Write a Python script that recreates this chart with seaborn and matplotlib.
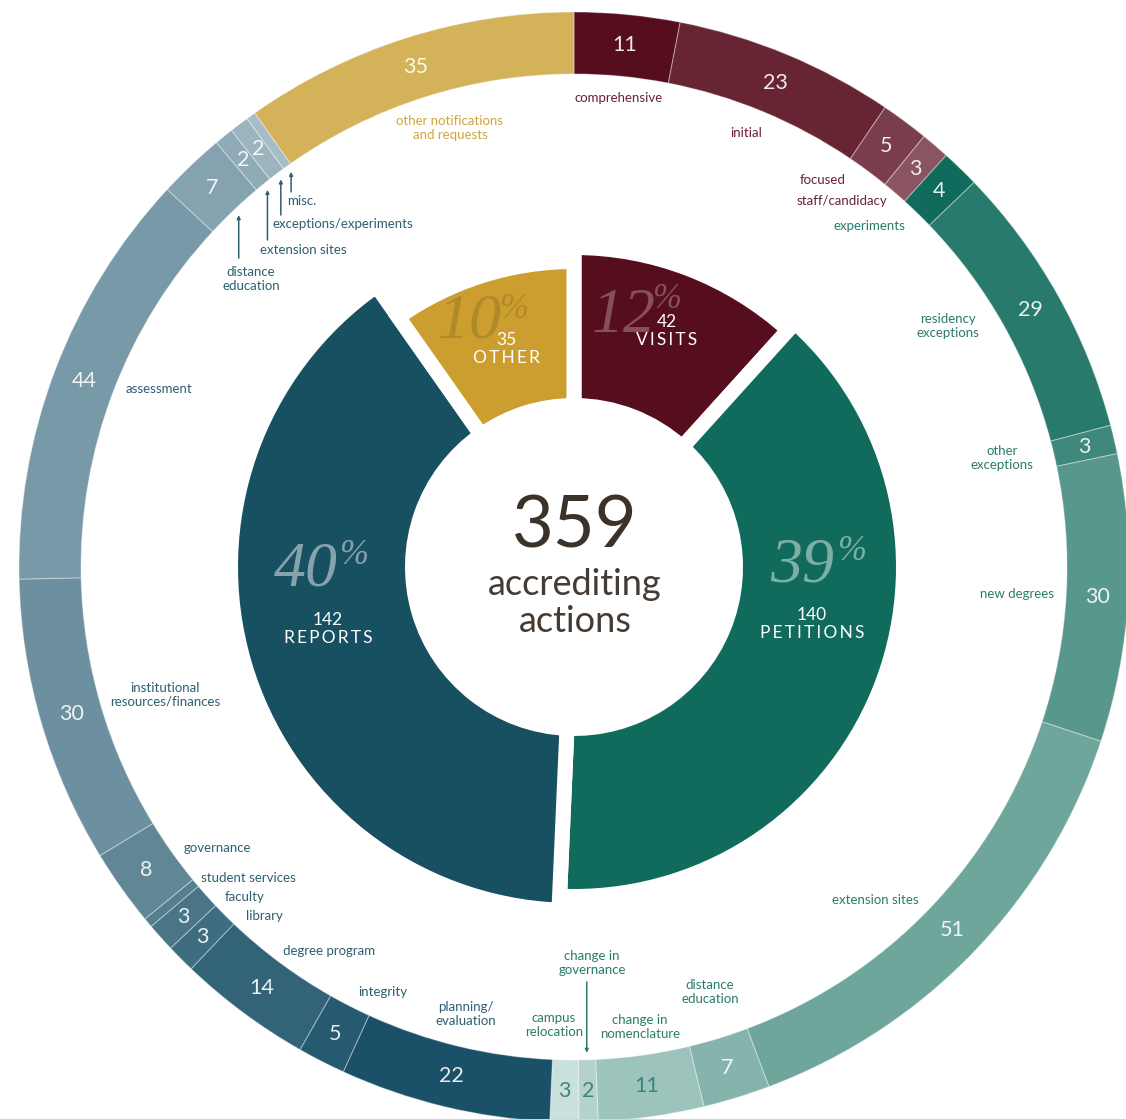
import numpy as np
import pandas as pd
import seaborn as sns
import matplotlib.pyplot as plt

# --- data ---
groups = ['VISITS', 'PETITIONS', 'REPORTS', 'OTHER']
group_totals = [42, 140, 142, 35]
group_pcts = ['12', '39', '40', '10']

visit_types = ['comprehensive', 'initial', 'focused', 'staff/candidacy']
visit_counts = [11, 23, 5, 3]

petition_types = ['experiments', 'residency\nexceptions', 'other\nexceptions', 'new degrees',
                  'extension sites', 'distance\neducation', 'change in\nnomenclature',
                  'change in\ngovernance', 'campus\nrelocation']
petition_counts = [4, 29, 3, 30, 51, 7, 11, 2, 3]

report_types = ['planning/\nevaluation', 'integrity', 'degree program', 'library', 'faculty',
                'student services', 'governance', 'institutional\nresources/finances',
                'assessment', 'distance\neducation', 'extension sites',
                'exceptions/experiments', 'misc.']
report_counts = [22, 5, 14, 3, 3, 1, 8, 30, 44, 7, 2, 2, 1]

other_types = ['other notifications\nand requests']
other_counts = [35]

# --- colours ---
inner_colors = ['#560d1e', '#116b5c', '#175061', '#cb9e2f']
label_colors = ['#6b2131', '#2b7b6c', '#2d5f71', '#d0a53a']
pct_colors = ['#85505b', '#7db0a5', '#86a3ad', '#b08928']
outer_pals = [sns.blend_palette(['#560d1e', '#8a5561'], len(visit_counts)),
              sns.blend_palette(['#116b5c', '#cae0dc'], len(petition_counts)),
              sns.blend_palette(['#1b5168', '#a6bdc6'], len(report_counts)),
              ['#d4b259']]

# --- layout (pixels of the 1126x1119 canvas) ---
W, H = 1126, 1119
CX, CY = 574, 567
R_OUT, RING_W = 555, 62
inner_r = [312, 322, 336, 298]
HOLE = 169
GAP = 15
LIGHT = ['Lato Light', 'Lato', 'DejaVu Sans']

label_xy = [
    [(619, 98), (746, 133), (823, 180), (842, 201)],
    [(869, 226), (948, 326), (1002, 458), (1017, 594), (875, 900), (710, 992),
     (640, 1027), (592, 963), (554, 1025)],
    [(466, 1014), (383, 992), (329, 951), (264, 916), (245, 897), (248, 878), (217, 848),
     (165, 695), (159, 389), (251, 279), (303, 250), (343, 224), (302, 201)],
    [(450, 128)],
]
# leader lines: (group, index) -> pixel y where the line stops near the label
leaders = {(1, 7): 982, (2, 9): 258, (2, 10): 240, (2, 11): 215, (2, 12): 192}
dark_numbers = {(1, 6), (1, 7), (1, 8)}

pct_xy = [((624, 317), (667, 300)), ((802, 567), (852, 551)),
          ((306, 571), (354, 556)), ((470, 323), (514, 309))]
name_xy = [(667, 331), (812, 624), (328, 629), (506, 349)]


def px(x, y):
    return x - CX, CY - y


df = pd.DataFrame({
    'group': np.repeat(range(4), [len(visit_counts), len(petition_counts),
                                  len(report_counts), len(other_counts)]),
    'item': np.concatenate([np.arange(len(c)) for c in
                            [visit_counts, petition_counts, report_counts, other_counts]]),
    'label': visit_types + petition_types + report_types + other_types,
    'count': visit_counts + petition_counts + report_counts + other_counts,
})
outer_colors = [c for pal in outer_pals for c in pal]

sns.set_theme(style='white')
plt.rcParams['font.family'] = ['Lato', 'DejaVu Sans']

fig = plt.figure(figsize=(W / 100, H / 100), dpi=100)
ax = fig.add_axes([0, 0, 1, 1])

# outer ring
outer, _ = ax.pie(df['count'], radius=R_OUT, startangle=90, counterclock=False,
                  colors=outer_colors,
                  wedgeprops=dict(width=RING_W, edgecolor=(1, 1, 1, 0.35), linewidth=0.8))

# inner ring, each wedge with its own radius and white gaps
inner, _ = ax.pie(group_totals, radius=1, startangle=90, counterclock=False,
                  colors=inner_colors,
                  wedgeprops=dict(edgecolor='white', linewidth=GAP * 0.72, joinstyle='miter'))
for w, r in zip(inner, inner_r):
    w.set_radius(r + GAP / 2)
    w.set_width(r + GAP - HOLE)

ax.set_xlim(-CX, W - CX)
ax.set_ylim(CY - H, CY)
ax.axis('off')

# numbers inside the outer ring + labels
for (g, i, lab, n), w in zip(df[['group', 'item', 'label', 'count']].itertuples(index=False), outer):
    mid = np.deg2rad((w.theta1 + w.theta2) / 2)
    if n >= 2:
        col = '#3d8577' if (g, i) in dark_numbers else (1, 1, 1, 0.9)
        ax.text(524 * np.cos(mid), 524 * np.sin(mid), str(n), ha='center', va='center',
                fontsize=15.5, family=LIGHT, color=col)
    lx, ly = label_xy[g][i]
    ax.text(*px(lx, ly), lab, ha='center', va='center', fontsize=9.5,
            color=label_colors[g], linespacing=1.2)
    if (g, i) in leaders:
        ex, ey = 486 * np.cos(mid), 486 * np.sin(mid)
        sy = CY - leaders[(g, i)]
        ax.annotate('', xy=(ex, ey), xytext=(ex, sy),
                    arrowprops=dict(arrowstyle='-|>', color=label_colors[g], lw=1.1,
                                    mutation_scale=5, shrinkA=0, shrinkB=0))

# inner ring texts
for g in range(4):
    (nx, ny), (qx, qy) = pct_xy[g]
    ax.text(*px(nx, ny), group_pcts[g], ha='center', va='center', fontsize=46,
            family='Liberation Serif', style='italic', color=pct_colors[g])
    ax.text(*px(qx, qy), '%', ha='center', va='center', fontsize=25,
            family='Liberation Serif', style='italic', color=pct_colors[g])
    tx, ty = name_xy[g]
    caps = '\u2009'.join(groups[g])
    ax.text(*px(tx, ty), str(group_totals[g]) + '\n' + caps,
            ha='center', va='center', fontsize=12.5, color='white', linespacing=1.15)

# centre
ax.text(*px(575, 527), str(sum(group_totals)), ha='center', va='center',
        fontsize=52, family=LIGHT, color='#3b3229')
ax.text(*px(575, 603), 'accrediting\nactions', ha='center', va='center',
        fontsize=26, family=LIGHT, color='#453b32', linespacing=1.15)

fig.savefig('out.png', dpi=100)
